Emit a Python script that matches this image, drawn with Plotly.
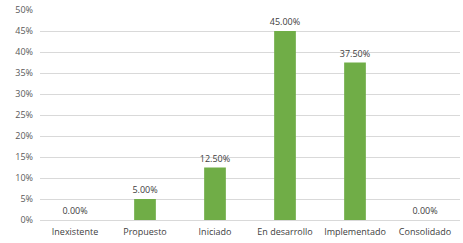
import plotly.graph_objects as go

categories = ["Inexistente", "Propuesto", "Iniciado", "En desarrollo", "Implementado", "Consolidado"]
values = [0.0, 5.0, 12.5, 45.0, 37.5, 0.0]
y_ticks = [0, 5, 10, 15, 20, 25, 30, 35, 40, 45, 50]

fig = go.Figure(go.Bar(
    x=categories, y=values,
    marker=dict(color="#70AD47", line=dict(width=0)),
    width=0.31,
    text=[f"{v:.2f}%" for v in values],
    textposition="outside",
    constraintext="none",
    cliponaxis=False,
    textfont=dict(size=9, color="#404040"),
))

fig.update_layout(
    width=463, height=243,
    margin=dict(l=40, r=3, t=8, b=23),
    paper_bgcolor="white", plot_bgcolor="white",
    font=dict(family="Open Sans", size=9, color="#595959"),
    showlegend=False,
)
fig.update_yaxes(range=[0, 50], tickvals=y_ticks, ticktext=[f"{t}%" for t in y_ticks],
                 gridcolor="#D9D9D9", gridwidth=1, zeroline=False, showline=False,
                 ticks="", ticklen=0, ticklabelstandoff=6,
                 tickfont=dict(size=9, color="#595959"))
fig.update_xaxes(showline=True, linecolor="#D9D9D9", linewidth=1, ticks="",
                 ticklabelstandoff=3,
                 tickfont=dict(size=9, color="#404040"))

fig.write_html("out.html", config={"displayModeBar": False},
               post_script="document.body.style.margin='0';document.body.style.overflow='hidden';")
